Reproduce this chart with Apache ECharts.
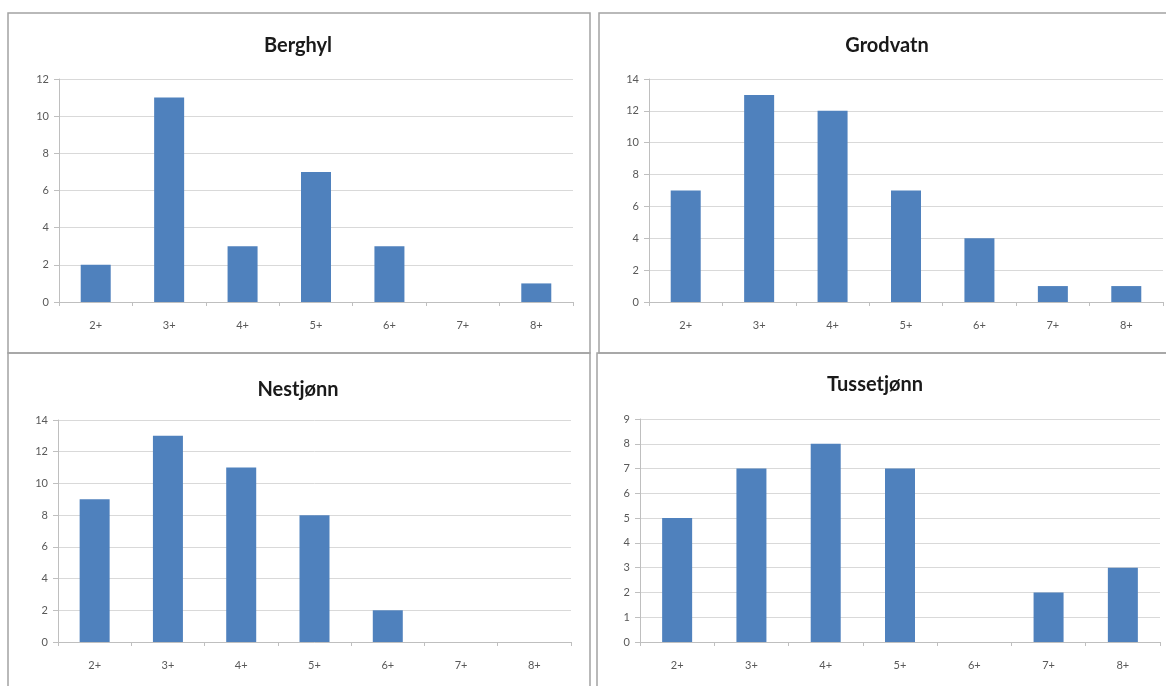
<!DOCTYPE html>
<html>
<head>
<meta charset="utf-8">
<title>Aldersfordeling</title>
<script src="https://cdn.jsdelivr.net/npm/echarts@6/dist/echarts.min.js"></script>
<style>
  html, body { margin: 0; padding: 0; background: #fff; }
  #chart { width: 1166px; height: 686px; }
</style>
</head>
<body>
<div id="chart"></div>
<script>
// Age classes on the x axis
const ageClasses = ['2+', '3+', '4+', '5+', '6+', '7+', '8+'];

// Counts per age class for each lake
const berghyl    = [2, 11, 3, 7, 3, 0, 1];
const grodvatn   = [7, 13, 12, 7, 4, 1, 1];
const nestjonn   = [9, 13, 11, 8, 2, 0, 0];
const tussetjonn = [5, 7, 8, 7, 0, 2, 3];

const lakeNames = ['Berghyl', 'Grodvatn', 'Nestjønn', 'Tussetjønn'];
const lakeData  = [berghyl, grodvatn, nestjonn, tussetjonn];
const yMax      = [12, 14, 14, 9];
const yStep     = [2, 2, 2, 1];

// Layout of the four panels (pixels)
const grids = [
  { left: 59,  top: 79,  width: 514, height: 223 },
  { left: 649, top: 79,  width: 514, height: 223 },
  { left: 58,  top: 420, width: 513, height: 222 },
  { left: 640, top: 419, width: 520, height: 223 }
];
const titlePos = [
  { x: 293, y: 31 },
  { x: 882, y: 31 },
  { x: 293, y: 375 },
  { x: 870, y: 370 }
];
const frames = [
  { x: 8,   y: 13,  w: 582, h: 340 },
  { x: 599, y: 13,  w: 580, h: 340 },
  { x: 8,   y: 353, w: 582, h: 345 },
  { x: 597, y: 353, w: 580, h: 345 }
];

const FONT = 'Lato, "Open Sans", sans-serif';
const chart = echarts.init(document.getElementById('chart'), null, { renderer: 'canvas' });

const option = {
  backgroundColor: '#ffffff',
  animation: false,
  title: lakeNames.map((name, i) => ({
    text: name,
    left: titlePos[i].x,
    top: titlePos[i].y,
    textAlign: 'center',
    textStyle: { fontFamily: FONT, fontWeight: 'bold', fontSize: 20, color: '#1a1a1a' }
  })),
  graphic: frames.map(f => ({
    type: 'rect',
    silent: true,
    z: -1,
    shape: { x: f.x, y: f.y, width: f.w, height: f.h },
    style: { fill: 'none', stroke: '#a3a3a3', lineWidth: 1.5 }
  })),
  grid: grids.map(g => Object.assign({ containLabel: false }, g)),
  xAxis: lakeData.map((_, i) => ({
    type: 'category',
    gridIndex: i,
    data: ageClasses,
    axisLine: { lineStyle: { color: '#bfbfbf', width: 1 } },
    axisTick: { show: true, length: 4, alignWithLabel: false, lineStyle: { color: '#bfbfbf' } },
    axisLabel: { color: '#595959', fontFamily: FONT, fontSize: 11, margin: 18 },
    splitLine: { show: false }
  })),
  yAxis: lakeData.map((_, i) => ({
    type: 'value',
    gridIndex: i,
    min: 0,
    max: yMax[i],
    interval: yStep[i],
    axisLine: { show: true, lineStyle: { color: '#bfbfbf', width: 1 } },
    axisTick: { show: true, length: 5, lineStyle: { color: '#bfbfbf' } },
    axisLabel: { color: '#595959', fontFamily: FONT, fontSize: 11, margin: 10 },
    splitLine: { show: true, lineStyle: { color: '#d9d9d9', width: 1 } }
  })),
  series: lakeData.map((d, i) => ({
    type: 'bar',
    name: lakeNames[i],
    xAxisIndex: i,
    yAxisIndex: i,
    data: d,
    barWidth: 30,
    itemStyle: { color: '#4f81bd', borderWidth: 0 }
  }))
};

chart.setOption(option);
</script>
</body>
</html>
